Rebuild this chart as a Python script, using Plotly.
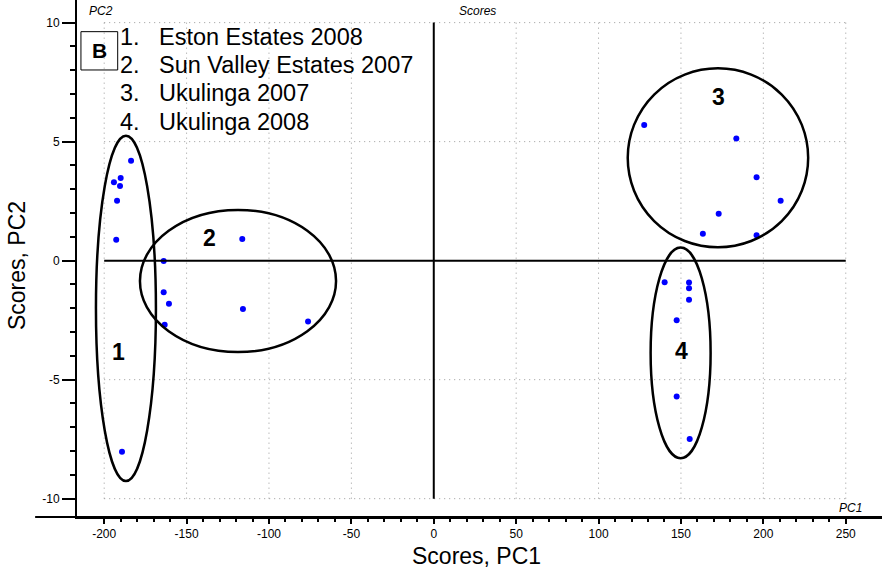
import plotly.graph_objects as go

# PCA scores (PC1, PC2) per sample group
pc1_eston_2008 = [-183.7, -190.0, -194.1, -190.4, -192.2, -192.7, -189.2]
pc2_eston_2008 = [4.20, 3.47, 3.29, 3.14, 2.52, 0.88, -8.03]

pc1_sun_valley_2007 = [-163.9, -163.9, -160.7, -163.3, -116.2, -115.8, -76.3]
pc2_sun_valley_2007 = [-0.01, -1.33, -1.81, -2.69, 0.91, -2.03, -2.56]

pc1_ukulinga_2007 = [127.7, 183.6, 195.9, 210.5, 172.9, 163.3, 195.9]
pc2_ukulinga_2007 = [5.70, 5.13, 3.50, 2.52, 1.97, 1.13, 1.07]

pc1_ukulinga_2008 = [140.1, 154.9, 154.9, 154.9, 147.4, 147.4, 155.3]
pc2_ukulinga_2008 = [-0.91, -0.92, -1.16, -1.64, -2.50, -5.71, -7.49]

# Group outlines: (pc1_min, pc1_max, pc2_min, pc2_max)
group_bounds = [
    (-205.0, -168.6, -9.26, 5.25),
    (-178.3, -59.3, -3.84, 2.13),
    (117.7, 227.2, 0.56, 8.08),
    (131.6, 168.0, -8.30, 0.55),
]
group_ids = ["1", "2", "3", "4"]
group_label_pc1 = [-191.6, -135.8, 173.0, 150.4]
group_label_pc2 = [-3.84, 0.94, 6.89, -3.79]

key_numbers = ["1.", "2.", "3.", "4."]
key_names = ["Eston Estates 2008", "Sun Valley Estates 2007", "Ukulinga 2007", "Ukulinga 2008"]
key_pc2 = [9.39, 8.24, 7.03, 5.84]

x_ticks = [-200, -150, -100, -50, 0, 50, 100, 150, 200, 250]
y_ticks = [-10, -5, 0, 5, 10]
x_minor = [v for v in range(-200, 251, 10) if v % 50 != 0]
y_minor = [v for v in range(-10, 11) if v % 5 != 0]

FONT = "Liberation Sans, Arial, sans-serif"

fig = go.Figure()

all_pc1 = pc1_eston_2008 + pc1_sun_valley_2007 + pc1_ukulinga_2007 + pc1_ukulinga_2008
all_pc2 = pc2_eston_2008 + pc2_sun_valley_2007 + pc2_ukulinga_2007 + pc2_ukulinga_2008
fig.add_trace(go.Scatter(
    x=all_pc1, y=all_pc2, mode="markers",
    marker=dict(color="#0000ff", size=6, line=dict(width=0)),
    hoverinfo="x+y",
))

shapes = []
# dotted grid limited to the labelled range
for xv in x_ticks:
    if xv == 0:
        continue
    shapes.append(dict(type="line", xref="x", yref="y", x0=xv, x1=xv,
                       y0=y_ticks[0], y1=y_ticks[-1], layer="below",
                       line=dict(color="#9a9a9a", width=1, dash="1px,4px")))
for yv in y_ticks:
    if yv == 0:
        continue
    shapes.append(dict(type="line", xref="x", yref="y", x0=x_ticks[0], x1=x_ticks[-1],
                       y0=yv, y1=yv, layer="below",
                       line=dict(color="#9a9a9a", width=1, dash="1px,4px")))
# origin cross
shapes.append(dict(type="line", xref="x", yref="y", x0=x_ticks[0], x1=x_ticks[-1],
                   y0=0, y1=0, line=dict(color="black", width=2)))
shapes.append(dict(type="line", xref="x", yref="y", x0=0, x1=0,
                   y0=y_ticks[0], y1=y_ticks[-1], line=dict(color="black", width=2)))
# group ellipses
for (x0, x1, y0, y1) in group_bounds:
    shapes.append(dict(type="circle", xref="x", yref="y", x0=x0, x1=x1, y0=y0, y1=y1,
                       line=dict(color="black", width=2.5)))
# panel letter box
shapes.append(dict(type="rect", xref="x", yref="y", x0=-214.1, x1=-191.8, y0=8.01, y1=9.62,
                   line=dict(color="black", width=1)))
# bottom axis line running past the vertical axis
shapes.append(dict(type="line", xref="paper", yref="paper", x0=-0.052, x1=1, y0=0, y1=0,
                   line=dict(color="black", width=2)))

annotations = []
for gid, gx, gy in zip(group_ids, group_label_pc1, group_label_pc2):
    annotations.append(dict(x=gx, y=gy, xref="x", yref="y", text=f"<b>{gid}</b>",
                            showarrow=False, font=dict(family=FONT, size=23, color="black")))
for num, name, ky in zip(key_numbers, key_names, key_pc2):
    annotations.append(dict(x=-191.4, y=ky, xref="x", yref="y", text=num, xanchor="left",
                            yanchor="middle", showarrow=False,
                            font=dict(family=FONT, size=23.5, color="black")))
    annotations.append(dict(x=-167.9, y=ky, xref="x", yref="y", text=name, xanchor="left",
                            yanchor="middle", showarrow=False,
                            font=dict(family=FONT, size=23.5, color="black")))
annotations.append(dict(x=-203.0, y=8.82, xref="x", yref="y", text="<b>B</b>",
                        showarrow=False, font=dict(family=FONT, size=21, color="black")))
# small italic captions
annotations.append(dict(x=-210.6, y=10.5, xref="x", yref="y", text="<i>PC2</i>", xanchor="left",
                        yanchor="middle", showarrow=False,
                        font=dict(family=FONT, size=12, color="black")))
annotations.append(dict(x=13.9, y=10.5, xref="x", yref="y", text="<i>Scores</i>", xanchor="left",
                        yanchor="middle", showarrow=False,
                        font=dict(family=FONT, size=12, color="black")))
annotations.append(dict(x=261.2, y=-10.38, xref="x", yref="y", text="<i>PC1</i>", xanchor="right",
                        yanchor="middle", showarrow=False,
                        font=dict(family=FONT, size=12, color="black")))
# axis titles
annotations.append(dict(x=0.4957, y=-0.0754, xref="paper", yref="paper", text="Scores, PC1",
                        xanchor="center", yanchor="middle", showarrow=False,
                        font=dict(family=FONT, size=23, color="black")))
annotations.append(dict(x=-0.0745, y=0.4855, xref="paper", yref="paper", text="Scores, PC2",
                        xanchor="center", yanchor="middle", textangle=-90, showarrow=False,
                        font=dict(family=FONT, size=23, color="black")))

fig.update_layout(
    width=882, height=582,
    margin=dict(l=77, r=0, t=0, b=65),
    plot_bgcolor="white", paper_bgcolor="white",
    showlegend=False,
    shapes=shapes, annotations=annotations,
    xaxis=dict(
        range=[-216.5, 272.0], tickvals=x_ticks, ticktext=[str(v) for v in x_ticks],
        ticks="outside", ticklen=5, tickwidth=2, tickcolor="black",
        showline=True, linewidth=2, linecolor="black",
        showgrid=False, zeroline=False,
        tickfont=dict(family=FONT, size=12, color="black"),
        minor=dict(tickvals=x_minor, ticks="outside", ticklen=3, tickwidth=2,
                   tickcolor="black", showgrid=False),
    ),
    yaxis=dict(
        range=[-10.77, 10.95], tickvals=y_ticks, ticktext=[str(v) for v in y_ticks],
        ticks="outside", ticklen=13, tickwidth=2, tickcolor="black",
        showline=True, linewidth=2, linecolor="black",
        showgrid=False, zeroline=False,
        tickfont=dict(family=FONT, size=12, color="black"),
        minor=dict(tickvals=y_minor, ticks="outside", ticklen=5, tickwidth=2,
                   tickcolor="black", showgrid=False),
    ),
)

fig.write_html("out.html")
